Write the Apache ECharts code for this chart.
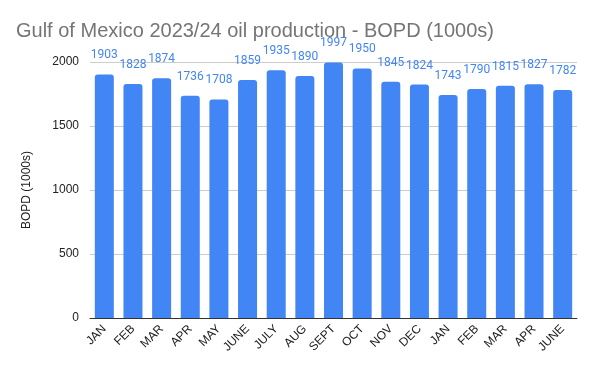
<!DOCTYPE html>
<html>
<head>
<meta charset="utf-8">
<script src="https://cdn.jsdelivr.net/npm/echarts@6/dist/echarts.min.js"></script>
<style>html,body{margin:0;padding:0;background:#fff}#c{width:600px;height:371px}</style>
</head>
<body>
<div id="c"></div>
<script>
const categories = ["JAN","FEB","MAR","APR","MAY","JUNE","JULY","AUG","SEPT","OCT","NOV","DEC","JAN","FEB","MAR","APR","JUNE"];
const values = [1903,1828,1874,1736,1708,1859,1935,1890,1997,1950,1845,1824,1743,1790,1815,1827,1782];
const yTicks = [0,500,1000,1500,2000];

const chart = echarts.init(document.getElementById('c'), null, {renderer:'canvas'});
chart.setOption({
  animation:false,
  title:{
    text:'Gulf of Mexico 2023/24 oil production - BOPD (1000s)',
    left:11, top:16,
    textStyle:{fontFamily:'Liberation Sans, Arial', fontSize:20, fontWeight:'normal', color:'#757575'}
  },
  grid:{left:90, right:23, top:62, bottom:53},
  xAxis:{
    type:'category', data:categories,
    axisTick:{show:false},
    axisLine:{lineStyle:{color:'#333', width:1}},
    axisLabel:{rotate:45, interval:0, fontFamily:'Liberation Sans, Arial', fontSize:12, color:'#222', margin:9}
  },
  yAxis:{
    type:'value', min:yTicks[0], max:yTicks[yTicks.length-1], interval:500,
    name:'BOPD (1000s)', nameLocation:'middle', nameGap:57,
    nameTextStyle:{fontFamily:'Liberation Sans, Arial', fontSize:12, color:'#222'},
    axisLine:{show:false}, axisTick:{show:false},
    axisLabel:{fontFamily:'Liberation Sans, Arial', fontSize:12, color:'#222', margin:11, formatter:v=>String(v)},
    splitLine:{lineStyle:{color:'#cccccc'}}
  },
  series:[{
    type:'bar', data:values, barWidth:19,
    itemStyle:{color:'#4285F4', borderRadius:[3,3,0,0]},
    label:{show:true, position:'top', distance:13, fontFamily:'Roboto', fontSize:12, color:'#4285F4'}
  }]
});
</script>
</body>
</html>
